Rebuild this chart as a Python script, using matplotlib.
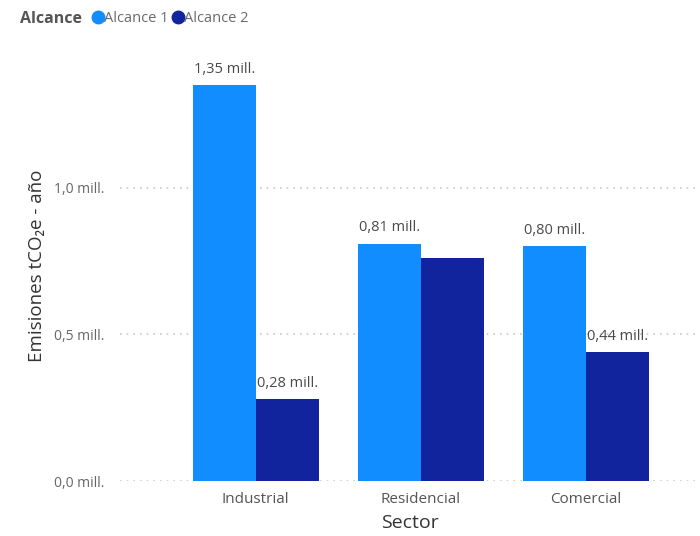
import matplotlib
matplotlib.use("Agg")
import matplotlib.pyplot as plt
from matplotlib.lines import Line2D
import numpy as np

plt.rcParams['font.family'] = ['Open Sans', 'DejaVu Sans']

sectores = ["Industrial", "Residencial", "Comercial"]
alcance_1 = [1.35, 0.81, 0.80]
alcance_2 = [0.28, 0.76, 0.44]
etiquetas_1 = ["1,35 mill.", "0,81 mill.", "0,80 mill."]
etiquetas_2 = ["0,28 mill.", None, "0,44 mill."]
yticks = [0.0, 0.5, 1.0]
ytick_labels = ["0,0 mill.", "0,5 mill.", "1,0 mill."]

color_1 = "#118DFF"
color_2 = "#12239E"

fig = plt.figure(figsize=(7.0, 5.36), dpi=100)
ax = fig.add_axes([0.171, 0.1026, 0.829, 0.804])

x = np.arange(len(sectores))
w = 0.38
b1 = ax.bar(x - w / 2, alcance_1, width=w, color=color_1, zorder=2)
b2 = ax.bar(x + w / 2, alcance_2, width=w, color=color_2, zorder=2)

for bars, labels in [(b1, etiquetas_1), (b2, etiquetas_2)]:
    for rect, lab in zip(bars, labels):
        if lab:
            ax.annotate(lab, (rect.get_x() + rect.get_width() / 2, rect.get_height()),
                        xytext=(0, 6), textcoords="offset points", ha="center",
                        va="bottom", fontsize=10.5, color="#4a4a4a")

ax.set_xlim(-0.824, 2.69)
ax.set_ylim(0, 1.47)
ax.set_yticks(yticks)
ax.set_yticklabels(ytick_labels, fontsize=10, color="#666666")
ax.set_xticks(x)
ax.set_xticklabels(sectores, fontsize=11, color="#555555")
ax.tick_params(axis="both", length=0)
ax.tick_params(axis="y", pad=11)
ax.tick_params(axis="x", pad=8)
for s in ax.spines.values():
    s.set_visible(False)
ax.yaxis.grid(True, linestyle=(0, (1, 3)), color="#C8C8C8", linewidth=1.2, zorder=0)
ax.set_axisbelow(True)

ax.set_xlabel("Sector", fontsize=14, color="#333333", labelpad=5)
ax.set_ylabel("Emisiones tCO\u2082e - año", fontsize=13.5, color="#333333", labelpad=6)

# legend row
ly = 1 - 17 / 536
ty = 1 - 19 / 536
fig.text(20 / 700, ty, "Alcance", fontsize=11.5, fontweight="bold",
         color="#555555", va="center", ha="left")
for cx, col, txt in [(98, color_1, "Alcance 1"), (178, color_2, "Alcance 2")]:
    fig.add_artist(Line2D([cx / 700], [ly], transform=fig.transFigure,
                          marker="o", markersize=9, color=col, linestyle="none"))
    fig.text((cx + 6) / 700, ty, txt, fontsize=10.5, color="#6a6a6a",
             va="center", ha="left")

fig.savefig("out.png", dpi=100)
